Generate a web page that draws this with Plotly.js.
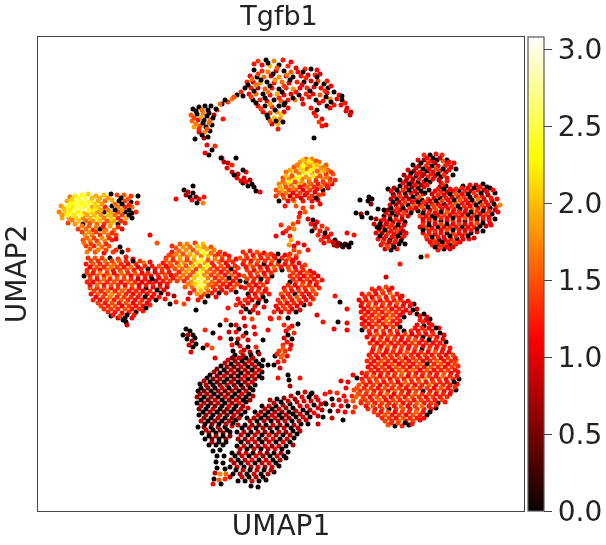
<!DOCTYPE html>
<html><head><meta charset="utf-8"><script src="https://cdn.plot.ly/plotly-3.0.1.min.js"></script>
<style>html,body{margin:0;padding:0;background:#fff}.scatterlayer{filter:blur(0.7px)}</style></head><body><div id="c" style="width:606px;height:545px"></div>
<script>
// Each list is x, y, expression×10 (x and y on the picture's own scale).
const topCluster=[258,61,14,266,60,0,274,61,17,283,60,12,262,65,11,270,66,20,279,65,0,288,66,13,296,68,10,254,70,0,262,71,13,268,72,17,276,71,9,284,71,0,291,72,15,298,72,11,305,69,13,311,69,0,317,70,11,250,76,11,257,77,0,264,77,16,271,76,9,279,77,18,286,76,11,293,77,0,301,76,12,308,75,9,315,75,13,320,74,10,247,82,13,253,82,10,260,83,18,267,82,0,274,83,12,282,82,16,289,83,10,297,82,13,304,82,0,311,81,10,318,81,14,324,84,0,245,88,0,251,88,12,258,88,7,265,89,15,272,88,12,279,89,0,286,88,13,293,89,18,300,88,11,307,88,13,314,87,10,321,88,11,328,88,0,249,94,11,256,94,16,263,94,0,270,95,12,277,94,19,284,95,11,291,94,10,299,95,0,306,94,13,313,94,11,320,95,15,327,93,10,334,92,0,253,100,0,260,100,13,267,101,10,274,100,0,281,101,15,288,100,12,295,100,17,302,99,10,316,100,0,323,101,12,330,99,17,337,99,10,342,100,0,258,106,12,265,106,0,272,107,14,279,106,0,284,105,0,319,103,10,327,106,0,334,105,12,341,105,11,347,108,10,263,112,11,270,113,14,277,112,18,284,112,10,311,108,12,314,113,11,351,112,8,346,111,10,268,118,0,274,118,20,280,119,17,316,116,13,322,119,10,319,122,14,272,124,9,278,124,19,283,122,0,322,126,12,278,129,12,314,138,0,326,125,10];
const topFill=[254,64,12,268,63,0,291,62,11,277,68,15,258,74,14,273,74,0,287,75,17,303,72,0,252,79,16,261,80,0,275,80,18,290,80,0,306,78,13,317,77,0,327,81,12,248,85,0,256,85,17,270,86,0,284,86,14,302,85,11,316,84,0,331,86,11,254,91,0,268,92,17,282,92,0,296,92,12,310,91,0,325,91,13,339,95,12,251,97,14,265,98,0,279,98,13,293,98,0,309,97,12,326,97,0,342,96,0,256,103,0,270,104,18,285,103,0,303,104,11,331,102,0,345,103,12,261,109,14,275,110,0,288,108,11,330,108,11,267,115,0,281,115,20,350,115,9,270,121,15,276,121,0,317,110,0];
const bridgeTop=[217,110,13,222,104,0,228,102,14,232,99,17,237,95,0,241,92,13,220,104,16,225,100,0,234,97,15,243,96,0];
const triangle=[193,109,0,199,107,0,205,106,0,211,106,0,216,109,0,191,115,15,197,114,0,203,113,17,209,113,0,214,115,8,192,121,16,198,120,12,204,120,0,210,120,17,194,127,19,200,126,15,206,127,0,212,125,0,199,132,11,205,132,18,210,131,0,204,138,8,208,137,0,195,139,0,223,119,12,207,145,11,212,150,0,215,146,13,196,111,0,202,110,16,208,110,0,194,118,14,201,117,19,207,116,0,213,118,0,196,124,17,203,123,0,209,123,16,199,129,13,207,129,15,202,135,0];
const stripLeft=[205,153,11,209,155,0,222,158,12,224,162,8,228,163,9,236,158,0,221,158,0,227,168,11,232,172,9,238,174,8,246,172,11,243,170,0,237,178,11,244,178,10,250,180,7,243,183,0,248,186,0,254,187,0,256,191,0,260,192,11,232,165,13,234,175,0,241,181,9,246,182,11,252,184,0];
const topBlob=[306,159,16,312,159,17,300,162,18,306,164,19,313,163,21,319,162,16,326,165,15,294,167,15,300,168,20,307,169,16,314,168,22,321,168,18,328,170,16,286,172,16,292,173,21,299,174,17,305,174,24,312,173,18,319,173,20,326,174,13,333,174,15,283,178,14,289,179,17,295,179,22,302,179,16,309,179,19,316,178,15,323,179,17,330,179,12,335,180,13,279,184,17,285,184,18,291,185,16,298,184,20,304,185,13,311,184,15,318,184,12,325,184,15,332,184,11,276,190,15,282,190,19,289,190,14,296,190,15,303,190,10,310,190,14,317,189,11,323,190,0,328,188,10,276,196,13,283,195,13,290,196,8,297,196,12,305,195,11,312,196,13,319,195,14,279,201,0,288,201,11,294,201,17,303,201,12,312,201,11,318,200,10,285,206,12,296,206,15,303,208,14,300,213,11,305,212,15,299,217,13,312,207,13,320,204,11];
const topBlobFill=[303,160,20,309,161,22,316,161,15,297,165,17,303,166,23,310,166,18,317,165,20,324,167,17,290,170,19,296,171,16,303,171,21,310,171,24,317,171,16,324,171,19,331,172,14,286,176,20,292,176,15,299,177,23,306,177,18,313,176,22,320,176,15,327,177,16,283,181,16,289,182,22,295,182,15,302,182,18,309,182,16,316,181,13,323,182,14,330,182,15,280,187,19,286,187,15,293,188,17,300,187,12,307,187,16,314,187,13,321,187,16,327,186,12,279,193,16,286,193,17,293,193,11,300,193,14,307,193,12,315,192,10,323,194,13,284,198,15,293,199,13,301,198,9,309,198,14,316,198,0];
const stemBlob=[293,224,15,298,222,13,289,228,14,294,229,17,281,225,13,286,231,13,290,236,12,283,233,11,276,236,11,291,240,19,289,245,18,294,246,10,294,250,14,298,243,12,290,254,13,296,256,15,299,252,15,292,260,11,304,245,11,308,250,12];
const smallEdge=[184,190,0,188,192,9,193,193,0,186,195,7,190,197,0,196,197,5,192,200,11,199,199,10,197,203,0,203,203,17,204,197,12,176,199,11,193,186,0];
const rightCluster=[424,155,13,430,155,0,436,154,12,442,155,13,447,160,0,418,160,10,424,160,7,431,161,12,437,160,0,443,161,15,449,162,12,454,163,11,413,165,0,419,166,7,426,166,13,432,166,0,438,166,11,445,166,13,451,167,10,456,169,0,408,170,10,414,171,6,420,172,12,427,171,0,433,172,9,440,171,13,446,172,8,453,175,0,404,175,7,410,176,11,416,176,0,422,176,7,428,177,13,435,176,9,441,177,0,447,178,11,400,180,0,406,181,6,412,182,9,418,182,0,424,182,11,430,182,0,441,183,11,447,181,12,388,189,0,394,188,7,400,186,0,406,187,10,412,187,6,418,188,0,424,187,9,440,187,7,446,186,0,463,186,0,470,185,11,476,185,9,483,184,0,393,194,0,399,193,9,405,193,0,411,193,11,417,194,6,423,194,12,429,190,0,435,191,11,441,192,13,447,192,9,453,191,12,459,191,0,465,191,13,471,191,7,478,190,12,484,190,8,490,188,0,391,199,8,397,199,0,403,199,11,409,199,7,416,200,12,422,200,0,428,199,14,434,198,10,440,198,0,446,198,13,452,197,9,458,197,12,464,197,14,470,197,0,476,196,11,482,196,12,488,195,7,495,193,0,390,205,11,396,205,6,402,205,12,408,205,0,414,205,16,420,205,11,426,204,8,432,204,13,438,204,11,444,204,0,450,203,12,456,203,16,462,203,11,468,203,9,474,203,14,480,202,0,486,202,12,492,201,9,497,199,11,388,210,7,394,211,12,400,210,9,406,211,11,412,210,13,418,211,0,424,210,12,430,210,9,436,210,15,442,209,11,448,209,9,454,209,12,460,209,0,466,209,12,472,209,16,478,208,9,484,208,11,490,208,0,496,207,13,500,205,17,384,216,0,390,216,10,396,216,0,402,216,12,408,216,9,420,216,14,426,216,11,432,216,0,438,215,12,444,215,14,450,215,9,456,215,13,462,215,11,468,215,0,474,215,13,480,214,10,486,214,14,492,214,0,498,212,11,381,221,9,387,222,12,393,222,7,399,222,11,405,222,0,423,222,12,429,222,7,435,221,13,441,221,0,447,221,11,453,221,14,459,221,9,465,221,0,471,221,15,477,220,0,483,220,11,489,220,13,495,219,0,377,227,0,383,227,11,389,227,13,395,228,9,401,228,12,420,227,9,426,228,14,432,228,11,438,227,0,444,227,10,450,227,13,456,227,12,462,227,0,468,227,11,474,227,13,480,226,0,486,226,8,491,225,11,376,233,10,382,233,7,388,233,14,394,234,11,400,233,0,406,233,11,423,233,11,429,234,13,435,234,10,441,233,12,447,233,0,453,233,14,459,233,11,465,233,13,471,233,0,477,232,10,483,231,0,378,239,12,384,239,10,390,240,0,396,239,13,402,238,9,427,239,12,433,240,14,439,240,0,445,240,11,451,239,13,457,239,0,463,239,10,469,239,12,474,238,9,381,245,11,387,245,13,393,245,9,399,244,0,432,245,13,438,245,11,444,245,14,450,245,0,456,244,12,385,249,9,391,250,0,397,249,12,438,250,12,444,249,0,450,249,10,405,244,0,421,257,0,427,256,15,400,264,12,386,277,9];
const rightFill=[427,158,11,433,158,0,440,158,9,421,163,0,428,163,13,435,163,7,447,164,12,416,168,9,423,169,0,429,169,11,436,169,14,443,169,0,449,170,11,411,173,0,417,174,11,424,174,8,431,174,12,438,174,0,444,175,13,407,178,9,413,179,7,419,179,12,426,180,0,433,179,11,439,180,8,403,183,11,409,184,0,415,185,11,421,185,7,427,185,12,443,185,13,468,188,10,474,188,0,480,187,12,487,187,0,391,191,11,397,190,0,403,190,13,409,190,0,415,191,10,421,191,0,438,189,12,444,189,0,450,189,11,456,189,13,462,188,12,394,196,9,400,196,13,406,196,6,413,197,0,419,197,15,425,193,0,432,194,9,438,195,13,444,195,10,450,194,0,456,194,15,462,194,11,468,194,0,474,193,14,481,193,0,487,192,10,493,190,11,393,202,0,399,202,8,405,202,14,412,202,11,418,202,0,424,202,13,430,201,9,436,201,0,442,201,14,448,200,11,454,200,0,460,200,15,466,200,12,472,200,0,478,199,16,484,199,9,491,198,12,391,208,0,397,208,13,403,208,0,410,208,13,416,208,9,422,207,15,428,207,0,434,207,14,440,206,12,446,206,10,452,206,14,458,206,0,464,206,13,470,206,11,476,205,0,482,205,14,488,205,11,494,204,0,386,213,11,392,213,0,398,213,11,404,213,14,411,213,0,423,213,0,429,213,13,435,213,11,441,212,0,447,212,15,453,212,11,459,212,13,465,212,10,471,212,0,477,211,13,483,211,0,489,211,13,495,210,9,384,219,11,390,219,0,396,219,13,402,219,8,423,219,10,429,219,12,435,218,0,441,218,13,447,218,11,453,218,0,459,218,12,465,218,15,471,218,10,477,217,0,483,217,12,489,217,10,380,224,0,386,224,9,392,225,13,398,225,0,404,225,10,423,225,13,429,225,0,435,224,11,441,224,14,447,224,0,453,224,11,459,224,14,465,224,9,471,224,12,477,223,14,483,223,0,490,223,11,379,230,13,385,230,0,391,231,12,397,231,14,403,231,8,423,230,0,429,231,12,435,231,13,441,230,11,447,230,14,453,230,0,459,230,12,465,230,10,471,230,12,477,229,0,380,236,0,386,236,12,392,237,11,398,236,0,404,236,12,426,236,14,432,237,0,438,237,12,444,237,11,450,236,0,456,236,13,462,236,11,468,236,0,383,242,13,389,242,8,395,242,12,401,241,0,430,242,11,436,242,13,442,242,0,448,242,12,454,242,14,460,242,11,388,247,14,394,247,0,435,247,0,441,247,14,447,247,11,453,247,9];
const darkSpots=[369,197,0,372,199,0,368,201,0,371,204,5,360,200,0,356,213,0,361,214,6,367,213,0,362,217,0,371,218,0,376,219,7,374,224,9,379,228,0,378,209,0,384,210,0];
const triangleMid=[308,219,9,313,220,0,311,224,12,317,222,11,322,226,13,315,228,13,320,231,12,327,229,14,318,235,13,324,237,11,331,234,12,329,241,13,335,240,0,324,243,11,334,245,7,340,244,0,345,244,3,351,243,0,349,247,0,343,247,5,337,246,8,312,231,0,347,233,11,354,235,12,315,225,8,325,233,0,321,240,13,328,237,10,333,242,9,338,243,6,347,245,0,342,246,0];
const yellowLeft=[70,197,16,75,196,22,82,195,23,88,194,21,96,196,19,104,195,20,111,194,0,117,195,14,124,195,15,131,196,14,138,196,0,67,201,19,73,202,23,79,201,25,85,200,26,91,201,22,98,201,19,105,201,16,112,200,19,119,201,0,125,201,14,131,202,0,137,203,13,61,206,18,67,207,24,73,207,22,79,206,25,85,206,24,92,207,19,98,207,20,105,207,13,112,206,0,118,207,17,125,207,12,132,207,16,59,212,17,65,213,21,71,212,24,78,212,22,84,213,20,91,212,21,97,212,18,104,212,0,111,213,19,118,212,14,125,212,0,132,213,0,136,212,13,62,218,19,69,218,18,76,218,21,83,218,17,90,218,19,97,218,22,104,218,17,111,218,21,118,218,13,126,218,19,132,218,0,68,223,14,75,224,18,83,224,0,90,223,15,97,224,16,104,224,13,111,223,19,118,224,0,125,223,13,78,229,14,86,229,16,93,230,13,100,229,0,106,230,17,114,230,16,122,229,11,85,235,18,92,235,17,100,235,13,108,235,16,116,235,14,83,240,15,90,241,17,97,241,14,105,241,17,112,240,13,86,246,14,94,246,13,102,247,16,109,246,15,120,247,0,87,252,17,95,252,15,104,253,11,113,252,14,122,252,0,128,250,13,150,235,11,157,243,15];
const yellowFill=[72,199,21,78,198,24,85,197,25,92,198,20,100,198,19,108,198,18,121,198,0,128,199,15,70,204,23,76,204,25,82,203,23,88,203,24,95,204,21,102,204,18,115,204,16,122,204,0,129,205,13,64,209,20,70,210,22,76,209,25,82,209,26,89,210,23,95,209,22,101,210,19,108,210,17,115,210,0,122,210,18,129,210,0,62,215,18,68,215,23,74,215,22,81,215,24,87,215,19,94,215,20,101,215,18,108,215,20,115,215,16,122,215,14,129,215,0,72,220,17,79,221,20,86,221,16,93,221,18,100,221,20,107,221,15,114,221,19,121,221,13,82,226,17,89,226,15,96,227,17,103,227,12,110,226,18,118,227,13,82,232,14,89,232,18,96,232,14,104,232,17,112,233,13,87,238,16,94,238,14,102,238,18,109,238,13,116,239,11,84,243,16,91,244,14,99,244,17,106,244,13,90,249,15,98,250,17,106,250,14,116,250,13];
const redBig=[88,258,13,95,258,15,102,258,14,110,258,0,118,259,13,126,257,12,133,259,10,86,264,12,93,264,15,100,264,13,107,264,14,114,264,16,121,264,13,128,264,11,136,264,13,144,263,17,150,262,11,87,270,13,94,270,14,100,270,11,107,270,16,113,270,12,120,270,14,127,270,15,134,270,12,141,269,13,148,269,0,155,269,12,162,269,14,168,268,13,84,276,0,90,276,13,97,276,15,104,276,12,110,276,18,117,276,13,124,276,15,131,276,11,138,276,14,145,276,13,151,276,11,158,275,13,165,275,15,171,275,11,87,282,13,93,282,11,100,282,16,107,282,13,114,282,15,121,282,12,128,282,16,135,282,13,142,282,10,149,282,11,156,281,9,163,281,12,170,281,14,90,288,15,97,288,13,104,288,15,111,288,11,118,288,14,125,288,17,132,288,13,139,288,12,146,288,0,153,287,11,160,287,13,167,287,8,91,294,12,98,294,16,105,294,13,112,294,18,119,294,15,126,294,13,133,294,11,140,294,14,147,294,10,154,294,12,161,293,0,168,294,9,93,300,13,100,300,11,107,300,15,114,300,12,121,300,16,128,300,13,135,300,11,142,300,13,149,300,12,156,300,0,101,306,14,108,306,13,115,306,15,122,306,10,129,306,14,136,306,12,143,306,11,150,305,13,108,312,13,115,312,12,122,313,11,129,312,13,136,312,0,143,311,12,111,316,0,118,318,9,125,318,0,132,318,11,126,322,0,123,320,0,127,325,9,174,296,7,176,302,13,165,299,12,170,304,0,184,304,14,188,299,11,198,300,12,205,302,0,196,310,0];
const redBigFill=[91,261,14,98,261,13,105,261,16,112,261,14,119,261,15,126,261,13,133,261,0,140,261,14,90,267,11,97,267,15,104,267,13,111,267,17,117,267,14,124,267,12,131,267,16,138,267,10,145,266,13,152,266,12,159,266,15,166,266,11,87,273,14,93,273,12,100,273,17,107,273,14,114,273,11,121,273,16,128,273,13,135,273,15,142,273,11,148,273,13,155,272,10,162,272,13,169,272,12,90,279,14,97,279,12,104,279,16,110,279,13,117,279,15,124,279,14,131,279,13,138,279,9,145,279,12,152,279,0,159,278,11,166,278,14,173,278,12,90,285,12,97,285,16,104,285,12,111,285,15,118,285,13,125,285,11,132,285,15,139,285,10,146,285,12,153,284,13,160,284,10,167,284,12,94,291,14,101,291,13,108,291,16,115,291,13,122,291,16,129,291,12,136,291,13,143,291,11,150,291,13,157,290,0,164,290,11,96,297,11,103,297,14,110,297,17,117,297,13,124,297,14,131,297,13,138,297,12,145,297,0,152,297,11,159,297,12,98,303,14,105,303,12,112,303,15,119,303,12,126,303,15,133,303,11,140,303,14,147,303,11,104,309,13,111,309,14,118,309,13,125,309,15,132,309,12,139,309,13,146,308,0,113,315,12,120,316,14,127,315,0,134,315,12];
const orangeBand=[172,246,13,180,244,15,187,244,17,195,243,14,203,244,20,172,252,12,179,251,16,186,250,18,193,250,15,200,249,22,207,249,19,214,250,17,220,252,14,166,258,13,173,257,15,180,257,19,187,257,16,194,257,21,201,256,17,208,256,20,215,256,14,222,257,15,229,256,12,163,263,12,170,263,16,177,263,14,184,263,18,191,263,15,198,263,22,205,263,19,212,263,13,219,262,16,226,263,11,233,262,13,175,269,15,182,269,16,189,269,19,196,269,14,203,269,20,210,269,15,217,269,13,224,269,14,231,269,0,238,268,14,176,275,14,183,275,17,190,275,15,197,275,21,204,275,18,211,275,14,218,275,16,225,275,12,232,275,16,239,275,11,177,281,14,184,281,13,191,282,18,198,282,24,205,282,20,212,282,16,219,281,13,226,281,15,233,281,12,240,281,0,185,287,15,192,287,16,199,288,23,206,288,19,213,287,14,220,287,13,227,287,11,234,287,15,241,287,10,190,293,11,197,294,18,204,294,15,212,293,12,219,293,0,226,293,13,236,292,0];
const orangeFill=[176,248,15,183,247,18,190,247,16,197,246,20,204,247,18,211,247,15,169,255,14,176,254,17,183,254,15,190,254,19,197,253,17,204,253,23,211,253,16,218,254,13,225,254,12,166,260,15,173,260,13,180,260,18,187,260,14,194,260,19,201,260,24,208,260,15,215,259,17,222,260,13,229,260,14,236,259,11,172,266,15,179,266,18,186,266,15,193,266,20,200,266,17,207,266,23,214,266,13,221,266,15,228,266,11,235,266,13,179,272,13,186,272,18,193,272,15,200,272,24,207,272,17,214,272,15,221,272,12,228,272,14,235,272,12,180,278,16,187,278,14,194,278,20,201,278,25,208,278,17,215,278,13,222,278,15,229,278,0,236,278,13,188,284,17,195,284,21,202,285,26,209,285,16,216,284,14,223,284,13,230,284,11,237,284,14,194,290,14,201,291,20,208,291,16,215,290,13,222,290,11,231,290,13,201,297,13,208,296,0,216,297,11];
const centerRed=[243,252,13,250,251,12,257,252,15,264,253,11,271,254,13,278,254,0,240,258,15,247,258,13,254,258,16,261,258,12,268,258,14,275,258,11,282,258,13,289,258,15,296,258,12,243,264,11,250,264,16,257,264,13,264,264,0,271,264,12,278,264,14,285,264,11,292,264,13,299,263,10,305,265,14,247,270,14,254,270,11,261,270,15,268,270,12,275,270,13,282,270,0,289,270,15,296,270,12,303,270,13,310,271,11,244,276,15,251,276,13,258,276,12,265,276,14,272,276,0,290,276,13,297,276,14,304,276,11,311,276,13,318,276,10,246,282,0,253,282,12,260,282,14,267,282,11,290,282,0,296,282,15,303,282,13,310,282,11,317,282,14,322,280,12,245,288,12,252,288,13,259,288,11,266,289,13,284,288,12,291,288,14,298,288,11,305,288,13,312,288,16,319,288,13,248,294,0,255,294,11,262,294,13,269,294,12,281,294,15,288,294,13,295,294,0,302,294,13,309,294,11,316,294,14,238,299,11,245,300,13,252,300,9,259,300,11,266,301,0,278,300,13,285,300,16,292,300,12,299,300,14,306,300,11,313,299,13,236,305,13,243,306,8,255,306,12,264,307,10,276,306,11,283,306,14,290,306,13,297,306,10,304,305,0,310,304,12,241,312,12,250,312,0,258,313,11,274,312,13,281,312,9,289,312,12,296,312,0,300,310,10,244,318,11,252,319,14,271,319,12,279,318,13,288,318,0,317,315,10,323,322,12,334,329,11,338,322,0,347,323,10,347,330,11,347,309,11,340,302,0,335,296,12];
const centerFill=[246,255,14,253,255,12,260,255,13,267,255,15,274,256,12,285,255,11,244,261,13,251,261,12,258,261,15,265,261,13,272,261,15,279,261,0,286,261,13,293,261,11,246,267,12,253,267,14,260,267,12,267,267,11,274,267,16,281,267,12,288,267,14,295,267,11,302,267,13,250,273,13,257,273,15,264,273,11,271,273,13,293,273,14,300,273,12,307,273,15,314,273,11,247,279,14,254,279,13,261,279,0,268,279,13,293,279,13,300,279,11,307,279,14,314,279,12,249,285,13,256,285,11,263,285,14,288,285,13,295,285,11,302,285,15,309,285,13,316,285,11,251,291,12,258,291,14,265,291,11,285,291,14,292,291,12,299,291,14,306,291,12,313,291,15,249,297,11,256,297,13,263,297,0,283,297,11,290,297,13,297,297,15,304,297,11,311,297,12,240,303,12,248,303,11,258,303,0,280,303,13,287,303,11,294,303,13,301,303,11,246,309,0,253,310,11,278,309,11,285,309,14,292,309,10];
const centerStreams=[226,320,13,231,325,0,236,325,11,245,326,9,254,327,11,284,325,13,292,326,11,298,324,0,229,332,9,236,332,12,246,333,0,255,334,11,286,331,11,294,333,13,231,339,0,238,339,10,248,340,9,284,338,10,292,339,0,232,345,12,240,346,11,248,347,0,256,347,13,283,345,13,291,345,10,233,351,0,241,352,13,250,352,8,258,352,0,279,351,14,285,351,13,290,349,12,234,357,14,243,358,11,252,358,0,275,356,0,281,357,15,287,356,11,278,362,11,284,361,13,274,365,0,280,368,9,205,330,13,213,333,0,220,338,11,207,345,12,212,348,15,215,358,10,288,375,0,289,380,0,278,378,12,300,378,12,290,386,7,195,338,0,220,325,0,228,308,12,239,329,0,243,336,12,237,343,0,244,350,9,289,328,13,288,335,0,287,342,12,283,348,15,277,354,13,283,355,16,268,330,11,263,340,0,270,318,12];
const smallLeft=[186,329,0,190,331,0,188,335,8,193,335,0,187,339,0,192,341,7,189,345,9,193,347,0,191,352,10,196,344,0,183,335,0,203,348,0];
const darkLeft=[235,355,0,243,355,8,251,355,0,259,354,7,228,360,9,235,361,6,242,361,0,249,361,10,256,361,0,263,360,0,221,366,0,227,367,7,234,367,4,241,367,9,248,367,0,255,367,8,262,366,0,268,365,0,214,372,7,220,373,0,227,373,6,234,373,9,241,373,0,248,373,7,255,373,11,262,372,0,207,378,0,213,379,5,220,379,8,227,379,0,234,379,6,241,379,10,248,379,0,255,379,7,262,378,0,200,384,0,206,385,8,213,385,0,220,385,6,227,385,9,234,385,5,241,385,0,248,385,8,255,385,0,198,391,0,204,391,5,211,391,0,218,391,7,225,391,4,232,391,8,239,391,0,246,391,9,253,390,0,197,397,7,204,397,0,211,397,6,218,397,0,225,397,9,232,397,0,239,397,6,246,397,0,253,396,8,197,403,0,204,403,8,211,403,5,218,403,9,225,403,0,232,403,7,239,403,11,246,402,0,199,409,6,206,409,0,213,409,9,220,409,0,227,409,6,234,409,0,241,409,8,248,408,9,199,415,0,206,415,7,213,415,0,220,415,8,227,415,5,234,415,10,241,415,0,201,421,8,208,421,0,215,421,6,222,421,0,229,421,9,236,420,0,198,427,0,204,427,5,211,427,0,218,427,8,225,427,0,232,426,9,202,433,0,209,433,7,216,433,0,223,433,6,230,432,0,205,439,0,212,439,5,219,439,0,226,439,7,209,445,0,216,445,0,223,445,0,213,451,0,220,450,0,217,456,0,224,456,0,216,462,0,223,463,0,217,468,0,225,469,0,215,473,8,220,474,17,226,474,16,214,479,0,219,480,15,225,479,13,230,477,8,221,484,0,213,484,11];
const darkLeftFill=[232,358,5,239,358,9,246,358,0,253,358,8,225,363,8,231,364,0,238,364,7,245,364,5,252,364,9,259,364,0,217,369,5,224,370,0,231,370,8,238,370,3,245,370,8,252,370,0,259,370,9,210,375,0,217,376,6,224,376,9,231,376,4,238,376,0,245,376,10,252,376,8,259,376,0,204,381,8,210,382,0,217,382,5,224,382,0,231,382,8,238,382,0,245,382,7,252,382,9,201,388,0,208,388,6,215,388,0,222,388,9,229,388,0,236,388,7,243,388,5,250,388,0,200,394,6,207,394,8,214,394,0,221,394,5,228,394,7,235,394,0,242,394,10,249,394,0,201,400,0,208,400,4,215,400,8,222,400,0,229,400,6,236,400,9,243,400,0,250,400,7,201,406,8,208,406,0,215,406,6,222,406,0,229,406,10,236,406,0,243,406,7,203,412,0,210,412,7,217,412,0,224,412,5,231,412,0,238,412,8,245,412,0,204,418,6,211,418,0,218,418,8,225,418,0,232,418,6,239,418,9,205,424,0,212,424,6,219,424,0,226,424,8,233,423,0,206,430,8,213,430,0,220,430,6,227,430,0,209,436,0,216,436,7,223,436,0,230,436,5,212,442,7,219,442,0,226,442,0];
const darkLower=[270,400,7,277,399,0,284,398,6,291,396,9,298,393,0,305,392,9,312,393,0,262,406,0,269,406,9,276,406,0,283,405,7,290,404,0,297,402,8,304,401,10,311,401,9,318,400,11,325,394,12,255,412,0,261,412,6,268,412,0,275,412,8,282,412,5,289,412,0,296,411,9,303,410,0,310,410,8,318,408,10,325,403,10,247,418,0,254,418,8,261,418,0,268,418,6,275,418,9,282,418,0,289,418,7,296,417,0,303,417,9,310,417,0,318,416,8,238,425,8,245,425,0,252,425,7,259,425,5,266,425,0,273,425,9,280,425,6,287,425,0,294,425,8,301,424,0,308,424,0,237,432,0,244,432,8,251,432,0,258,432,9,265,432,6,272,432,0,279,432,10,286,432,7,293,431,0,300,431,8,238,439,7,245,439,5,252,439,10,259,439,0,266,439,8,273,439,11,280,439,0,287,439,9,294,438,0,237,446,0,244,446,9,251,446,0,258,446,7,265,446,10,272,446,6,279,446,9,286,446,0,293,445,7,232,453,0,239,453,7,246,453,10,253,453,0,260,453,9,267,453,5,274,453,0,281,453,8,288,452,0,231,460,8,238,460,0,245,460,8,252,460,11,259,460,0,266,460,9,273,460,0,280,460,7,286,458,0,230,467,0,237,467,9,244,467,0,251,467,7,258,467,10,265,467,6,272,467,9,279,466,0,233,474,0,240,474,7,247,474,0,254,474,9,261,474,0,268,474,8,274,472,0,238,481,0,245,481,0,252,481,10,259,481,0,266,480,0,251,486,0,258,487,0];
const darkLowerFill=[274,403,8,281,402,0,288,401,9,295,399,7,302,397,11,309,397,0,316,397,10,265,409,8,272,409,0,279,409,9,286,408,6,293,408,0,300,406,9,307,406,11,314,405,0,321,404,9,258,415,9,265,415,0,272,415,9,279,415,0,286,415,8,293,414,0,300,414,9,307,413,0,314,413,11,250,421,8,257,421,0,264,421,8,271,421,0,278,421,7,285,421,9,292,421,0,299,421,7,306,420,9,242,428,0,249,428,9,256,428,0,263,428,8,270,428,5,277,428,0,284,428,9,291,428,0,298,428,8,241,435,9,248,435,0,255,435,9,262,435,0,269,435,10,276,435,7,283,435,0,290,435,8,297,434,0,241,442,0,248,442,7,255,442,9,262,442,0,269,442,9,276,442,0,283,442,10,290,442,0,240,449,9,247,449,0,254,449,9,261,449,0,268,449,8,275,449,10,282,449,0,235,456,0,242,456,9,249,456,0,256,456,10,263,456,7,270,456,0,277,456,9,284,456,0,234,463,7,241,463,0,248,463,9,255,463,0,262,463,8,269,463,10,276,463,0,236,470,0,243,470,8,250,470,0,257,470,9,264,470,0,271,470,8,242,477,9,249,477,0,256,477,8,263,477,0];
const bridge=[330,392,12,337,393,13,344,396,11,352,396,13,358,394,14,332,399,0,339,400,10,346,401,12,353,401,15,361,401,15,326,404,0,333,405,9,341,406,11,348,406,0,355,407,14,322,410,8,330,411,0,338,411,9,345,412,11,353,412,13,323,417,0,332,418,9,343,420,0,318,424,9,348,382,10,353,375,11,357,378,0,362,373,12,346,388,11,341,381,10,311,394,0];
const redRight=[372,289,13,379,288,12,386,287,14,392,288,11,362,294,12,369,294,14,376,294,11,383,293,13,390,293,16,397,294,12,402,296,10,359,300,11,366,300,12,373,300,15,380,300,11,387,300,13,394,300,12,401,300,14,408,301,11,414,304,0,361,306,10,368,306,13,375,306,16,382,306,12,389,306,14,396,306,11,403,306,12,410,306,10,417,309,9,361,312,12,368,312,11,375,312,14,382,312,12,389,312,15,396,312,13,403,312,11,410,313,12,417,314,0,424,314,0,362,318,11,369,318,13,376,318,15,383,318,11,390,318,17,397,318,13,404,317,0,420,320,12,426,320,10,430,319,0,362,324,12,369,324,11,376,324,14,383,324,13,390,324,15,397,324,11,417,325,11,424,326,0,432,325,12,362,330,0,369,331,13,376,331,11,383,331,14,390,331,12,397,331,14,404,331,0,411,331,13,418,331,11,425,331,14,432,331,10,439,328,11,367,337,11,374,337,14,381,337,12,388,337,15,395,337,13,402,337,12,409,337,14,416,337,11,423,337,0,430,337,13,437,337,11,444,335,10,370,343,13,377,343,11,384,343,14,391,343,12,398,343,13,405,343,11,412,343,14,419,343,12,426,343,13,433,343,11,440,343,12,446,342,0,373,349,11,380,349,14,387,349,12,394,349,15,401,349,13,408,349,11,415,349,14,422,349,0,429,349,15,436,349,12,443,349,11,450,348,12,369,355,12,376,355,13,383,355,11,390,355,14,397,355,12,404,355,15,411,355,13,418,355,11,425,355,14,432,355,12,439,355,13,446,355,10,453,355,14,367,361,13,374,361,11,381,361,15,388,361,13,395,361,11,402,361,14,409,361,12,416,361,15,423,361,11,430,361,13,437,361,16,444,361,12,451,361,13,456,360,15,368,367,11,375,367,12,382,367,14,389,367,11,396,367,15,403,367,13,410,367,11,417,367,14,424,367,12,431,367,15,438,367,13,445,367,11,452,367,14,458,366,13,367,373,14,374,373,11,381,373,13,388,373,12,395,373,14,402,373,16,409,373,13,416,373,11,423,373,14,430,373,12,437,373,13,444,373,15,451,373,11,458,372,12,362,379,12,369,379,14,376,379,13,383,379,15,390,379,11,397,379,14,404,379,12,411,379,15,418,379,13,425,379,18,432,379,12,439,379,14,446,379,11,453,379,13,459,379,0,359,385,15,366,385,12,373,385,14,380,385,11,387,385,13,394,385,15,401,385,12,408,385,14,415,385,11,422,385,13,429,385,16,436,385,12,443,385,13,450,385,12,457,384,11,354,390,14,360,391,13,367,391,15,374,391,12,381,391,14,388,391,11,395,391,16,402,391,13,409,391,11,416,391,14,423,391,0,430,391,12,437,391,15,444,391,11,451,391,13,456,390,0,356,397,16,363,397,14,370,397,12,377,397,15,384,397,13,391,397,11,398,397,14,405,397,12,412,397,15,419,397,13,426,397,11,433,397,14,440,397,12,447,397,13,361,403,13,368,403,15,375,403,12,382,403,14,389,403,13,396,403,15,403,403,11,410,403,13,417,403,16,424,403,12,431,403,14,438,403,0,445,402,12,368,409,13,375,409,11,382,409,14,389,409,0,396,409,13,403,409,15,410,409,12,417,409,14,424,409,13,431,409,12,436,408,0,378,415,13,385,415,15,392,415,12,399,415,14,406,415,11,413,415,15,420,415,13,427,415,0,385,421,14,392,421,13,399,421,16,406,421,12,413,421,14,420,420,11,388,425,15,395,426,0,402,426,13,409,425,0];
const redRightFill=[375,291,12,382,291,14,389,290,12,365,297,13,372,297,11,379,297,15,386,297,12,393,297,14,400,298,11,362,303,12,369,303,14,376,303,12,383,303,14,390,303,12,397,303,15,404,303,11,411,304,12,364,309,11,371,309,14,378,309,13,385,309,15,392,309,11,399,309,13,406,310,11,413,310,0,365,315,13,372,315,12,379,315,15,386,315,13,393,315,14,400,315,11,420,316,11,427,317,9,365,321,11,372,321,14,379,321,12,386,321,16,393,321,12,400,321,12,423,322,13,429,323,11,365,327,13,372,327,12,379,327,15,386,327,11,393,327,14,400,327,0,415,328,12,422,328,13,429,328,11,436,328,0,370,334,12,377,334,15,384,334,12,391,334,14,398,334,11,405,334,14,412,334,10,419,334,13,426,334,11,433,334,13,440,333,0,373,340,11,380,340,14,387,340,12,394,340,14,401,340,11,408,340,13,415,340,15,422,340,11,429,340,0,436,340,13,443,339,10,374,346,14,381,346,12,388,346,15,395,346,12,402,346,14,409,346,12,416,346,14,423,346,11,430,346,13,437,346,12,444,346,13,372,352,12,379,352,15,386,352,11,393,352,13,400,352,12,407,352,15,414,352,12,421,352,13,428,352,11,435,352,15,442,352,12,449,352,11,371,358,14,378,358,11,385,358,14,392,358,13,399,358,15,406,358,11,413,358,14,420,358,13,427,358,12,434,358,14,441,358,11,448,358,14,455,358,12,371,364,12,378,364,14,385,364,12,392,364,15,399,364,11,406,364,14,413,364,12,420,364,15,427,364,0,434,364,13,441,364,15,448,364,11,455,364,14,371,370,13,378,370,12,385,370,14,392,370,11,399,370,15,406,370,13,413,370,16,420,370,11,427,370,15,434,370,12,441,370,13,448,370,14,455,370,12,366,376,12,373,376,15,380,376,11,387,376,14,394,376,13,401,376,15,408,376,11,415,376,14,422,376,12,429,376,14,436,376,12,443,376,16,450,376,13,457,376,11,363,382,14,370,382,12,377,382,15,384,382,12,391,382,14,398,382,11,405,382,16,412,382,13,419,382,15,426,382,12,433,382,14,440,382,13,447,382,12,454,382,0,357,388,15,364,388,13,371,388,14,378,388,12,385,388,15,392,388,13,399,388,14,406,388,12,413,388,15,420,388,13,427,388,14,434,388,11,441,388,15,448,388,12,455,387,13,359,394,15,366,394,13,373,394,14,380,394,12,387,394,16,394,394,11,401,394,14,408,394,12,415,394,15,422,394,13,429,394,14,436,394,11,443,394,13,450,394,11,365,400,14,372,400,13,379,400,16,386,400,12,393,400,14,400,400,13,407,400,15,414,400,12,421,400,14,428,400,13,435,400,12,442,400,14,366,406,12,373,406,15,380,406,13,387,406,14,394,406,12,401,406,15,408,406,11,415,406,14,422,406,16,429,406,12,436,405,13,374,412,14,381,412,12,388,412,15,395,412,11,402,412,14,409,412,13,416,412,16,423,412,12,430,412,0,382,418,13,389,418,14,396,418,12,403,418,15,410,418,13,417,418,12,424,418,11,391,423,13,398,423,14,405,423,0,412,424,12];
const tickValues=[0,0.5,1,1.5,2,2.5,3];
const tickLabels=["0.0","0.5","1.0","1.5","2.0","2.5","3.0"];
const groups=[topCluster,topFill,bridgeTop,triangle,stripLeft,topBlob,topBlobFill,stemBlob,smallEdge,rightCluster,rightFill,darkSpots,triangleMid,yellowLeft,yellowFill,redBig,redBigFill,orangeBand,orangeFill,centerRed,centerFill,centerStreams,smallLeft,darkLeft,darkLeftFill,darkLower,darkLowerFill,bridge,redRight,redRightFill];
const X=[],Y=[],V=[];
groups.forEach(g=>{for(let i=0;i<g.length;i+=3){X.push(g[i]);Y.push(g[i+1]);V.push(g[i+2]/10);}});
const hot=[[0,'#0b0000'],[0.365,'#ff0000'],[0.746,'#ffff00'],[1,'#ffffff']];
Plotly.newPlot('c',[{type:'scatter',mode:'markers',x:X,y:Y,hoverinfo:'skip',
 marker:{size:5,color:V,cmin:0,cmax:3.08,colorscale:hot,opacity:1,line:{width:0},
 colorbar:{thickness:16,len:1,lenmode:'fraction',x:1.008,xanchor:'left',y:0,yanchor:'bottom',ypad:0,xpad:0,
  outlinecolor:'#555',outlinewidth:1.2,tickmode:'array',tickvals:tickValues,ticktext:tickLabels,ticks:'outside',ticklen:8,tickcolor:'#444',tickfont:{family:'DejaVu Sans',size:28,color:'#222'}}}}],
 {width:606,height:545,margin:{l:38,r:82,t:37,b:34,autoexpand:false},showlegend:false,paper_bgcolor:'#fff',plot_bgcolor:'#fff',
  title:{text:'Tgfb1',font:{family:'DejaVu Sans',size:27,color:'#222'},x:279/606,xanchor:'center',y:1-16/545,yanchor:'middle'},
  xaxis:{range:[38,524],showgrid:false,zeroline:false,showticklabels:false,ticks:'',showline:true,mirror:true,linecolor:'#444',linewidth:1.3,title:{text:'UMAP1',font:{family:'DejaVu Sans',size:28,color:'#222'},standoff:4}},
  yaxis:{range:[511,37],showgrid:false,zeroline:false,showticklabels:false,ticks:'',showline:true,mirror:true,linecolor:'#444',linewidth:1.3,title:{text:'UMAP2',font:{family:'DejaVu Sans',size:28,color:'#222'},standoff:4}}
 },{displayModeBar:false});
</script></body></html>
